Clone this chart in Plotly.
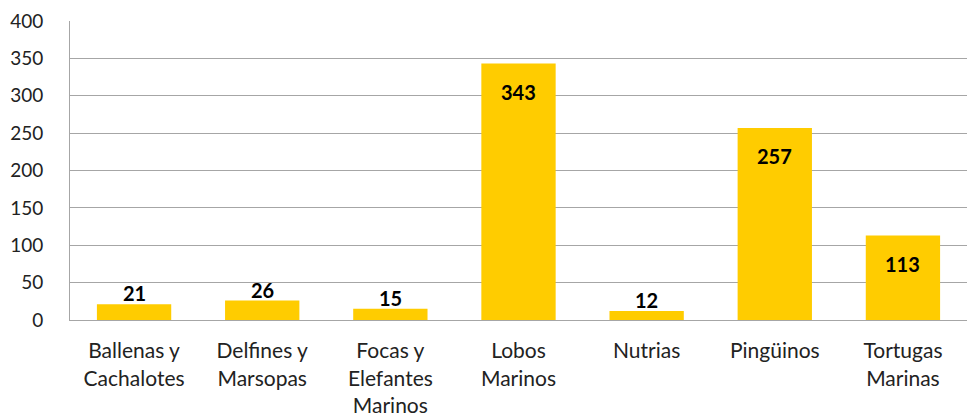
import plotly.graph_objects as go

categories = ["Ballenas y<br>Cachalotes", "Delfines y<br>Marsopas", "Focas y<br>Elefantes<br>Marinos",
              "Lobos<br>Marinos", "Nutrias", "Pingüinos", "Tortugas<br>Marinas"]
values = [21, 26, 15, 343, 12, 257, 113]
y_ticks = [0, 50, 100, 150, 200, 250, 300, 350, 400]

fig = go.Figure(go.Bar(
    x=categories,
    y=values,
    marker=dict(color="#FFCC00", line=dict(width=0)),
    cliponaxis=False,
))

# Value labels: inside near the top for tall bars, just above for short ones
for cat, v in zip(categories, values):
    inside = v > 60
    fig.add_annotation(
        x=cat, y=v, text=f"<b>{v}</b>", showarrow=False,
        yanchor="top" if inside else "bottom",
        yshift=-14 if inside else -3,
        font=dict(family="Lato", size=20, color="#000000"),
    )

fig.update_layout(
    width=967, height=418,
    margin=dict(l=70, r=0, t=21, b=98),
    paper_bgcolor="white", plot_bgcolor="white",
    bargap=0.42,
    showlegend=False,
    font=dict(family="Lato", size=20, color="#222222"),
)
fig.update_yaxes(
    range=[0, 400], tickvals=y_ticks, showgrid=True, gridcolor="#A6A6A6", gridwidth=1,
    showline=True, linecolor="#A6A6A6", linewidth=1, ticks="", zeroline=False,
    ticklabelstandoff=22, tickfont=dict(size=19),
)
fig.update_xaxes(
    showline=True, linecolor="#A6A6A6", linewidth=1, ticks="", tickfont=dict(size=21),
    ticklabelstandoff=12,
)

fig.write_html("out.html")
